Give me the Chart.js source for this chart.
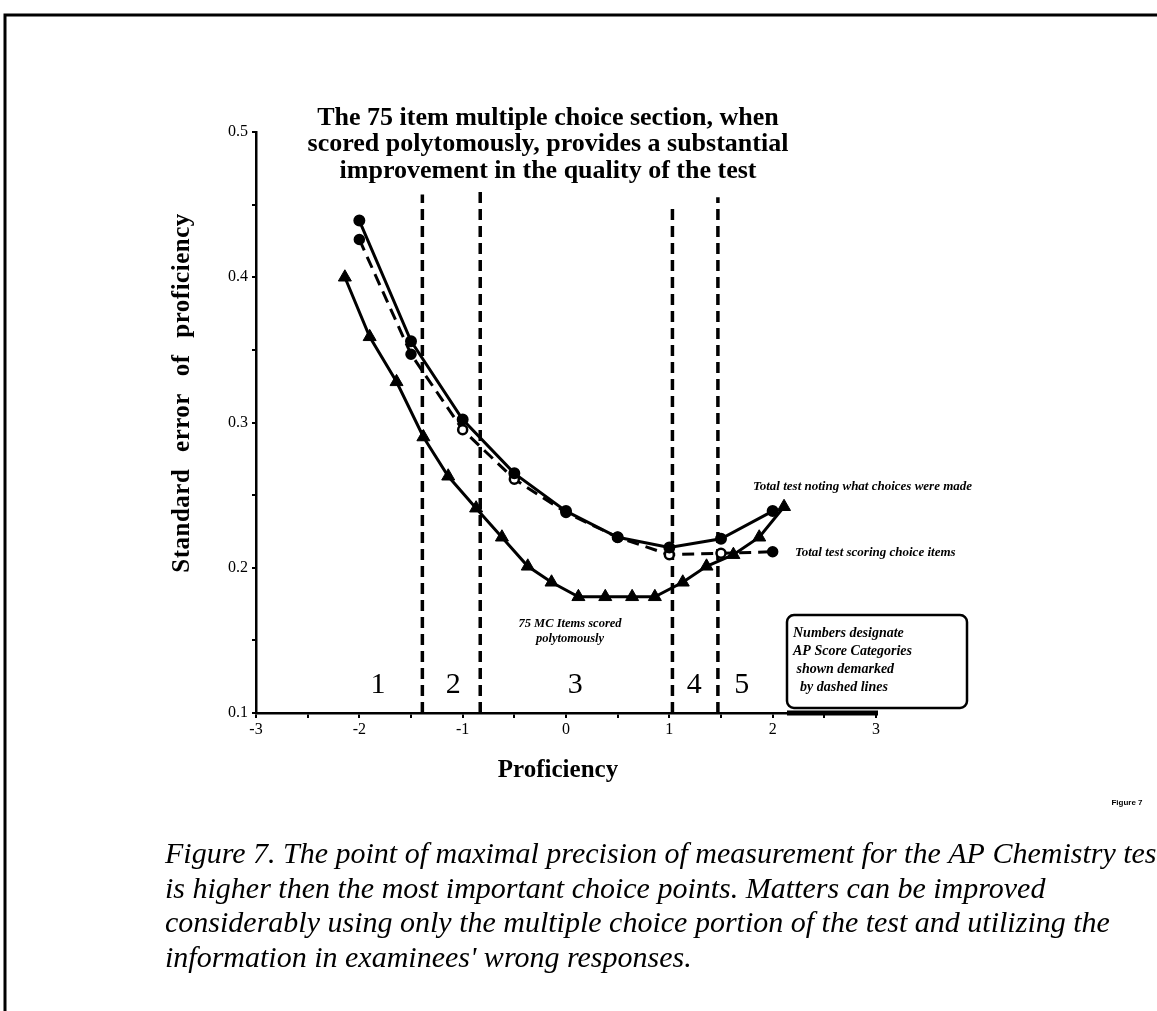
<!DOCTYPE html>
<html>
<head>
<meta charset="utf-8">
<title>Figure 7</title>
<script src="https://cdn.jsdelivr.net/npm/chart.js@4.4.1/dist/chart.umd.min.js"></script>
<style>
  html, body { margin: 0; padding: 0; background: #fff; overflow: hidden; }
  canvas { display: block; }
</style>
</head>
<body>
<canvas id="chart" width="1157" height="1011"></canvas>
<script>
// values (proficiency vs standard error)
const mcX = [-2.14, -1.90, -1.64, -1.38, -1.14, -0.87, -0.62, -0.37, -0.14, 0.12, 0.38, 0.64, 0.86, 1.13, 1.36, 1.62, 1.87, 2.11];
const mcY = [0.400, 0.359, 0.328, 0.290, 0.263, 0.241, 0.221, 0.201, 0.190, 0.180, 0.180, 0.180, 0.180, 0.190, 0.201, 0.209, 0.221, 0.242];

const totalX = [-2, -1.5, -1, -0.5, 0, 0.5, 1, 1.5, 2];
const notingY = [0.439, 0.356, 0.302, 0.265, 0.239, 0.221, 0.214, 0.220, 0.239];
const scoringY = [0.426, 0.347, 0.295, 0.261, 0.238, 0.221, 0.209, 0.210, 0.211];
const scoringFilled = [true, true, false, false, false, false, false, false, true];

// AP score category cut points (dashed verticals)
const cutX = [-1.39, -0.83, 1.03, 1.47];
const cutTop = [0.457, 0.462, 0.450, 0.455];
const categories = ['1', '2', '3', '4', '5'];

const xTickLabels = ['-3', '-2', '-1', '0', '1', '2', '3'];
const yTickLabels = ['0.1', '0.2', '0.3', '0.4', '0.5'];

const titleLines = [
  'The 75 item multiple choice section, when',
  'scored polytomously, provides a substantial',
  'improvement in the quality of the test'
];
const noteLines = ['Numbers designate', 'AP Score Categories', ' shown demarked', '  by dashed lines'];
const captionLines = [
  'Figure 7. The point of maximal precision of measurement for the AP Chemistry test',
  'is higher then the most important choice points. Matters can be improved',
  'considerably using only the multiple choice portion of the test and utilizing the',
  "information in examinees' wrong responses."
];

const pts = (xs, ys) => xs.map((x, i) => ({ x: x, y: ys[i] }));

const datasets = [
  {
    label: '75 MC Items scored polytomously',
    data: pts(mcX, mcY),
    showLine: true,
    borderColor: '#000',
    backgroundColor: '#000',
    borderWidth: 3,
    pointStyle: 'triangle',
    pointRadius: 7.5,
    pointBorderWidth: 1
  },
  {
    label: 'Total test noting what choices were made',
    data: pts(totalX, notingY),
    showLine: true,
    borderColor: '#000',
    backgroundColor: '#000',
    borderWidth: 3,
    pointRadius: 4.5
  },
  {
    label: 'Total test scoring choice items',
    data: pts(totalX, scoringY),
    showLine: true,
    borderColor: '#000',
    borderWidth: 3,
    borderDash: [12, 7],
    pointRadius: 4.5,
    pointBorderWidth: 2.5,
    pointBackgroundColor: scoringFilled.map(f => f ? '#000' : '#fff')
  }
];

cutX.forEach((x, i) => {
  datasets.push({
    label: 'cut ' + (i + 1),
    data: [{ x: x, y: 0.1 }, { x: x, y: cutTop[i] }],
    showLine: true,
    borderColor: '#000',
    borderWidth: 3.5,
    borderDash: [11, 6],
    pointRadius: 0,
    order: 1
  });
});

// all the text round the plot
const notes = {
  id: 'notes',
  afterDraw(chart) {
    const ctx = chart.ctx;
    const xs = chart.scales.x;
    const ys = chart.scales.y;
    ctx.save();
    ctx.fillStyle = '#000';
    ctx.strokeStyle = '#000';

    // page frame
    ctx.lineWidth = 3;
    ctx.beginPath();
    ctx.moveTo(5, 1011);
    ctx.lineTo(5, 15);
    ctx.lineTo(1157, 15);
    ctx.stroke();

    ctx.textAlign = 'center';
    ctx.textBaseline = 'middle';

    // title
    ctx.font = 'bold 26px "Liberation Serif"';
    titleLines.forEach((t, i) => ctx.fillText(t, 548, 118 + i * 26.5));

    // axis titles
    ctx.font = 'bold 25px "Liberation Serif"';
    ctx.fillText('Proficiency', 558, 771);
    ctx.save();
    ctx.translate(183, 393);
    ctx.rotate(-Math.PI / 2);
    ctx.font = 'bold 25px "Liberation Serif"';
    ctx.letterSpacing = '0.5px';
    ctx.wordSpacing = '10px';
    ctx.fillText('Standard error of proficiency', 0, 0);
    ctx.restore();

    // category numbers
    const catPos = [-1.82, -1.09, 0.09, 1.24, 1.70];
    ctx.font = '30px "Liberation Serif"';
    categories.forEach((c, i) => ctx.fillText(c, xs.getPixelForValue(catPos[i]), ys.getPixelForValue(0.119)));

    // curve labels
    ctx.font = 'italic 600 13px "Liberation Serif"';
    ctx.textAlign = 'left';
    ctx.fillText('Total test noting what choices were made', 753, 487);
    ctx.fillText('Total test scoring choice items', 795, 553);
    ctx.textAlign = 'center';
    ctx.font = 'italic 600 12.5px "Liberation Serif"';
    ctx.fillText('75 MC Items scored', 570, 624);
    ctx.fillText('polytomously', 570, 639);

    // thick piece of axis under the note box
    ctx.lineWidth = 5;
    ctx.beginPath();
    ctx.moveTo(787, 713);
    ctx.lineTo(878, 713);
    ctx.stroke();

    // note box
    ctx.lineWidth = 2.5;
    ctx.fillStyle = '#fff';
    ctx.beginPath();
    ctx.roundRect(787, 615, 180, 93, 7);
    ctx.fill();
    ctx.stroke();
    ctx.fillStyle = '#000';
    ctx.textAlign = 'left';
    ctx.font = 'italic bold 14px "Liberation Serif"';
    noteLines.forEach((t, i) => ctx.fillText(t, 793, 633 + i * 18));

    // small tag
    ctx.font = 'bold 8px "Liberation Sans"';
    ctx.textAlign = 'center';
    ctx.fillText('Figure 7', 1127, 803);

    // caption, first line runs off the right edge as in the scan
    ctx.textAlign = 'left';
    ctx.font = 'italic 28px "Liberation Serif"';
    const w = ctx.measureText(captionLines[0].slice(0, -1)).width;
    const size = 28 * 992 / w;
    ctx.font = 'italic ' + size.toFixed(1) + 'px "Liberation Serif"';
    captionLines.forEach((t, i) => ctx.fillText(t, 165, 855 + i * 34.7));

    ctx.restore();
  }
};

Chart.defaults.font.family = '"Liberation Serif", serif';
Chart.defaults.color = '#000';

new Chart(document.getElementById('chart'), {
  type: 'scatter',
  data: { datasets: datasets },
  options: {
    responsive: false,
    animation: false,
    devicePixelRatio: 1,
    layout: { padding: { left: 150, top: 132, right: 281, bottom: 258 } },
    plugins: { legend: { display: false }, tooltip: { enabled: false } },
    scales: {
      x: {
        type: 'linear',
        min: -3,
        max: 3,
        afterFit: (s) => { s.height = 40; },
        ticks: {
          stepSize: 0.5,
          font: { size: 16 },
          padding: 2,
          maxRotation: 0,
          callback: (v) => {
            const i = xTickLabels.indexOf(String(Math.round(v)));
            return Number.isInteger(v) && i >= 0 ? xTickLabels[i] : '';
          }
        },
        grid: { drawOnChartArea: false, drawTicks: true, tickLength: 5, color: '#000', lineWidth: 2 },
        border: { display: true, color: '#000', width: 2.5 }
      },
      y: {
        type: 'linear',
        min: 0.1,
        max: 0.5,
        afterFit: (s) => { s.width = 106; },
        ticks: {
          stepSize: 0.05,
          font: { size: 16 },
          padding: 4,
          callback: (v) => {
            const t = Math.round(v * 10);
            return Math.abs(v * 10 - t) < 1e-6 ? yTickLabels[t - 1] : '';
          }
        },
        grid: { drawOnChartArea: false, drawTicks: true, tickLength: 4, color: '#000', lineWidth: 2 },
        border: { display: true, color: '#000', width: 2.5 }
      }
    }
  },
  plugins: [notes]
});
</script>
</body>
</html>
